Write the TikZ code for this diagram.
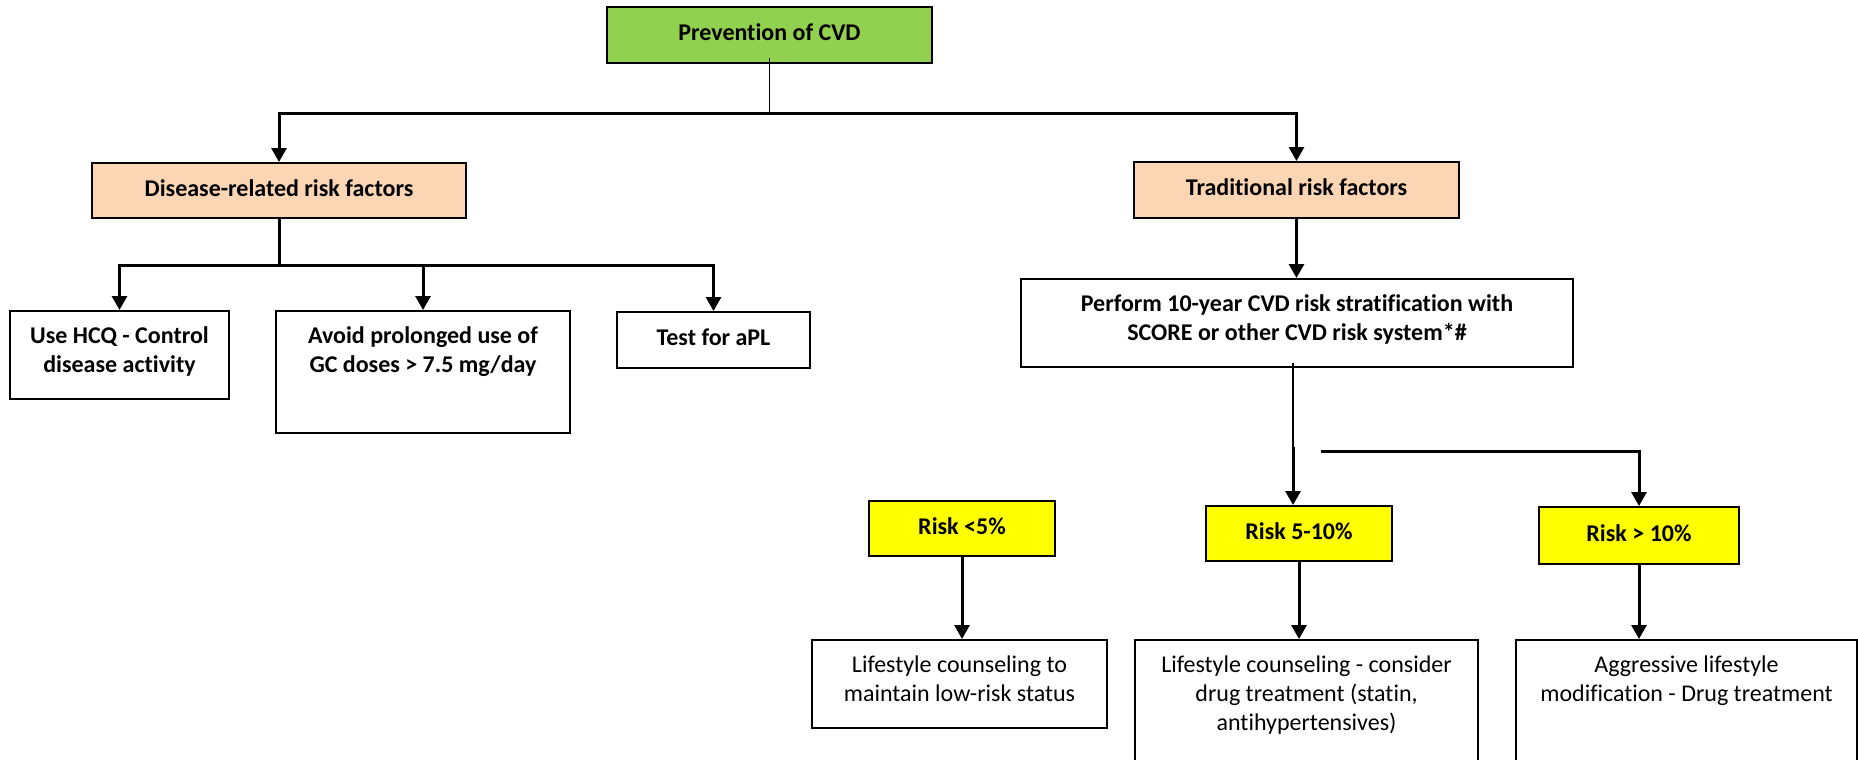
\documentclass[tikz,border=0pt]{standalone}
\usepackage{fontspec}
\setmainfont{Carlito}[Ligatures=NoCommon]
\usetikzlibrary{arrows.meta}
\definecolor{cvdgreen}{HTML}{92D050}
\definecolor{riskpeach}{HTML}{FCD5B4}
\definecolor{riskyellow}{HTML}{FFFF00}
\begin{document}
\begin{tikzpicture}[x=1pt,y=-1pt,
  box/.style={draw=black, line width=2pt, inner sep=0pt, fill=white},
  boldtext/.style={font=\fontsize{24}{29}\selectfont\bfseries},
  plaintext/.style={font=\fontsize{24}{29}\selectfont},
  oneline/.style={text height=17pt, text depth=6pt},
  textblock/.style={align=center, inner sep=0pt, anchor=north},
  link/.style={line width=3pt, line join=miter, -{Triangle[length=14pt,width=15pt]}},
  trunk/.style={line width=3pt, line cap=rect},
  thinline/.style={line width=1.3pt}]

\useasboundingbox (0,0) rectangle (1858,760);
\fill[white] (0,0) rectangle (1858,760);
\clip (0,0) rectangle (1858,760);

% --- top level ---
\node[box, fill=cvdgreen, boldtext, oneline, minimum width=325pt, minimum height=56pt]
  (prev) at (769.5,35) {Prevention of CVD};

\node[box, fill=riskpeach, boldtext, oneline, minimum width=374pt, minimum height=55pt]
  (dis) at (279,190.5) {Disease-related risk factors};
\node[box, fill=riskpeach, boldtext, oneline, minimum width=325pt, minimum height=56pt]
  (trad) at (1296.5,190) {Traditional risk factors};

% --- disease-related branch ---
\node[box, minimum width=219pt, minimum height=88pt] (hcq) at (119.5,355) {};
\node[textblock, boldtext] (hcq-text) at ([yshift=-13.5pt]hcq.north)
  {\rule{0pt}{20pt}Use HCQ - Control\\disease activity};

\node[box, minimum width=294pt, minimum height=122pt] (gc) at (423,372) {};
\node[textblock, boldtext] (gc-text) at ([yshift=-13.5pt]gc.north)
  {\rule{0pt}{20pt}Avoid prolonged use of\\GC doses > 7.5 mg/day};

\node[box, boldtext, oneline, minimum width=193pt, minimum height=56pt]
  (apl) at (713.5,340) {Test for aPL};

% --- traditional branch ---
\node[box, minimum width=552pt, minimum height=88pt] (perf) at (1297,323) {};
\node[textblock, boldtext] (perf-text) at ([yshift=-13.5pt]perf.north)
  {\rule{0pt}{20pt}Perform 10-year CVD risk stratification with\\SCORE or other CVD risk system*\#};

\node[box, fill=riskyellow, boldtext, oneline, minimum width=186pt, minimum height=55pt]
  (r1) at (962,528.5) {Risk <5\%};
\node[box, fill=riskyellow, boldtext, oneline, minimum width=186pt, minimum height=55pt]
  (r2) at (1299,533.5) {Risk 5-10\%};
\node[box, fill=riskyellow, boldtext, oneline, minimum width=200pt, minimum height=57pt]
  (r3) at (1639,535.5) {Risk > 10\%};

\node[box, minimum width=295pt, minimum height=88pt] (l1) at (959.5,684) {};
\node[textblock, plaintext] (l1-text) at ([yshift=-13.5pt]l1.north)
  {\rule{0pt}{20pt}Lifestyle counseling to\\maintain low-risk status};

\node[box, minimum width=343pt, minimum height=180pt] (l2) at (1306.5,730) {};
\node[textblock, plaintext] (l2-text) at ([yshift=-13.5pt]l2.north)
  {\rule{0pt}{20pt}Lifestyle counseling - consider\\drug treatment (statin,\\antihypertensives)};

\node[box, minimum width=341pt, minimum height=180pt] (l3) at (1686.5,730) {};
\node[textblock, plaintext] (l3-text) at ([yshift=-13.5pt]l3.north)
  {\rule{0pt}{20pt}Aggressive lifestyle\\modification - Drug treatment};

% --- connectors ---
\coordinate (split1) at (768,113);
\draw[thinline] ([yshift=6pt]prev.south) -- (prev.south |- split1);
\draw[link] (split1) -| (dis.north);
\draw[link] (split1) -| (trad.north);

\coordinate (split2) at (279,265);
\draw[trunk] (dis.south) -- (split2);
\draw[link] (split2) -| (hcq.north);
\draw[link] (split2) -| (gc.north);
\draw[link] (split2) -| (apl.north);

\draw[link] (trad.south) -- (trad.south |- perf.north);

\coordinate (split3) at (1293,447);
\draw[thinline] ([yshift=5pt]perf.south -| split3) -- (split3);
\draw[link] (split3) -- (split3 |- r2.north);

\coordinate (split4) at (1321,451);
\draw[link] (split4) -| (r3.north);

\draw[link] (r1.south) -- (r1.south |- l1.north);
\draw[link] (r2.south) -- (r2.south |- l2.north);
\draw[link] (r3.south) -- (r3.south |- l3.north);
\end{tikzpicture}
\end{document}
